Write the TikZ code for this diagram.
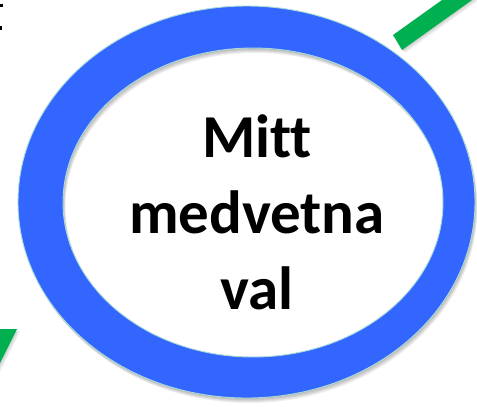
\documentclass[tikz,border=0pt]{standalone}
\usepackage{fontspec}
\setmainfont{Carlito}[Ligatures=NoCommon]
\usetikzlibrary{calc}
\definecolor{ringblue}{RGB}{51,102,255}
\definecolor{ringedge}{RGB}{170,220,215}
\definecolor{arrowgreen}{RGB}{0,176,80}
\tikzset{
  ringfill/.style={fill=ringblue, even odd rule},
  ringline/.style={draw=ringedge, line width=0.9pt},
  shadowfill/.style={fill=black, fill opacity=0.06, even odd rule},
  labeltext/.style={font=\fontsize{61}{76}\selectfont\bfseries, align=center, text=black, inner sep=0pt},
  greenpart/.style={fill=arrowgreen},
}
\begin{document}
\begin{tikzpicture}[x=1pt,y=-1pt]
\useasboundingbox (0,0) rectangle (477,407);
\clip (0,0) rectangle (477,407);
\fill[white] (0,0) rectangle (477,407);
% green bar (top right)
\foreach \d in {1,2,3}{
  \fill[black, fill opacity=0.06] ($(393,35)+(\d,\d)$) -- ($(402,50)+(\d,\d)$) -- ($(483.4,-8.1)+(\d,\d)$) -- ($(474.4,-23.1)+(\d,\d)$) -- cycle;
}
\fill[greenpart] (393,35) -- (402,50) -- (483.4,-8.1) -- (474.4,-23.1) -- cycle;
% green triangle (bottom left)
\foreach \d in {1,2,3}{
  \fill[black, fill opacity=0.06] ($(-5,329)+(\d,\d)$) -- ($(17,329)+(\d,\d)$) -- ($(-5,373)+(\d,\d)$) -- cycle;
}
\fill[greenpart] (-5,329) -- (17,329) -- (-5,373) -- cycle;
% small black fragments top left
\fill[black] (0,4) rectangle (3,7);
\fill[black] (0,26) rectangle (2,30);
% ring shadow
\foreach \d in {1,2,3,4,5}{
  \fill[shadowfill] (246.5+0.5*\d,202+\d) ellipse [x radius=228.5, y radius=196]
                   (253+0.5*\d,202.5+\d) ellipse [x radius=190, y radius=154.5];
}
% ring
\fill[ringfill] (246.5,202) ellipse [x radius=228.5, y radius=196]
                (253,202.5) ellipse [x radius=190, y radius=154.5];
\draw[ringline] (246.5,202) ellipse [x radius=228.5, y radius=196];
\draw[ringline] (253,202.5) ellipse [x radius=190, y radius=154.5];
% label
\node[labeltext] (label) at (257,212) {Mitt\\medvetna\\val};
\end{tikzpicture}
\end{document}
